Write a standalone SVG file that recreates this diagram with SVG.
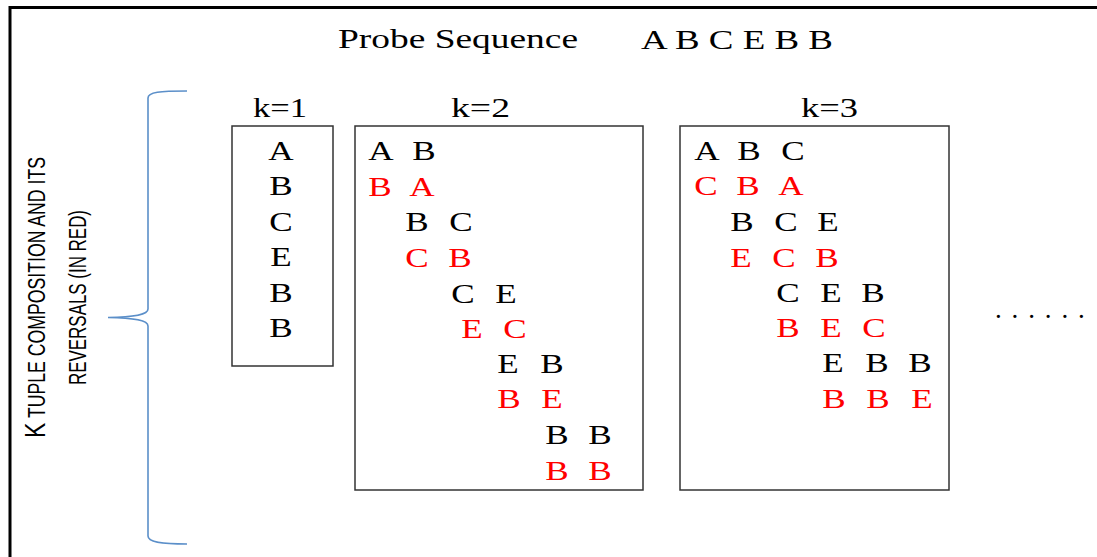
<svg xmlns="http://www.w3.org/2000/svg" width="1097" height="557" viewBox="0 0 1097 557">
<style>
.s{font-family:"Liberation Serif","Times New Roman",serif;font-size:27px;fill:#000}
.l{font-family:"Liberation Serif","Times New Roman",serif;font-size:27px;text-anchor:middle;fill:#000}
.r{fill:#ff0000}
.box{fill:none;stroke:#333;stroke-width:1.5}
.side{font-family:"Liberation Sans Narrow","Liberation Sans",Arial,sans-serif;font-size:23px;text-anchor:middle;fill:#000}
</style>
<rect width="1097" height="557" fill="#fff"/>
<g id="frame">
<line x1="10" y1="7.5" x2="1097" y2="7.5" stroke="#000" stroke-width="3"/>
<line x1="10" y1="6" x2="10" y2="557" stroke="#000" stroke-width="3"/>
</g>
<g id="title">
<text class="s" x="338" y="48" textLength="240" lengthAdjust="spacingAndGlyphs">Probe Sequence</text>
<text class="s" x="641" y="49" textLength="192" lengthAdjust="spacingAndGlyphs">A B C E B B</text>
</g>
<g id="side-label">
<text class="side" transform="translate(44.5,297.5) rotate(-90)" textLength="281" lengthAdjust="spacingAndGlyphs"><tspan font-size="30">K</tspan> TUPLE COMPOSITION AND ITS</text>
<text class="side" transform="translate(85.5,297.5) rotate(-90)" textLength="175" lengthAdjust="spacingAndGlyphs">REVERSALS (IN RED)</text>
</g>
<g id="connectors">
<path id="brace" d="M187,91 C160,91 148,92 148,98 L148,309 C148,315 135,317 108,317.5 C135,318 148,320 148,326 L148,536 C148,542 160,544 187,544" fill="none" stroke="#5b8fc9" stroke-width="1.6"/>
</g>
<g id="k1">
<text class="s" x="253" y="117" textLength="54" lengthAdjust="spacingAndGlyphs">k=1</text>
<rect class="box" x="232" y="126" width="101" height="240"/>
<text class="l" transform="translate(281,160) scale(1.3,1)">A</text>
<text class="l" transform="translate(281,195) scale(1.3,1)">B</text>
<text class="l" transform="translate(281,231) scale(1.3,1)">C</text>
<text class="l" transform="translate(281,266) scale(1.3,1)">E</text>
<text class="l" transform="translate(281,302) scale(1.3,1)">B</text>
<text class="l" transform="translate(281,337) scale(1.3,1)">B</text>
</g>
<g id="k2">
<text class="s" x="451" y="117" textLength="59" lengthAdjust="spacingAndGlyphs">k=2</text>
<rect class="box" x="355" y="126" width="288" height="364"/>
<text class="l" transform="translate(381,160) scale(1.3,1)">A</text>
<text class="l" transform="translate(424,160) scale(1.3,1)">B</text>
<text class="l r" transform="translate(380,196) scale(1.3,1)">B</text>
<text class="l r" transform="translate(422,196) scale(1.3,1)">A</text>
<text class="l" transform="translate(417,231) scale(1.3,1)">B</text>
<text class="l" transform="translate(461,231) scale(1.3,1)">C</text>
<text class="l r" transform="translate(417,267) scale(1.3,1)">C</text>
<text class="l r" transform="translate(460,267) scale(1.3,1)">B</text>
<text class="l" transform="translate(463,303) scale(1.3,1)">C</text>
<text class="l" transform="translate(506,303) scale(1.3,1)">E</text>
<text class="l r" transform="translate(472,338) scale(1.3,1)">E</text>
<text class="l r" transform="translate(515,338) scale(1.3,1)">C</text>
<text class="l" transform="translate(508,373) scale(1.3,1)">E</text>
<text class="l" transform="translate(552,373) scale(1.3,1)">B</text>
<text class="l r" transform="translate(509,408) scale(1.3,1)">B</text>
<text class="l r" transform="translate(552,408) scale(1.3,1)">E</text>
<text class="l" transform="translate(557,444) scale(1.3,1)">B</text>
<text class="l" transform="translate(600,444) scale(1.3,1)">B</text>
<text class="l r" transform="translate(557,480) scale(1.3,1)">B</text>
<text class="l r" transform="translate(600,480) scale(1.3,1)">B</text>
</g>
<g id="k3">
<text class="s" x="801" y="117" textLength="57" lengthAdjust="spacingAndGlyphs">k=3</text>
<rect class="box" x="680" y="126" width="269" height="364"/>
<text class="l" transform="translate(707,160) scale(1.3,1)">A</text>
<text class="l" transform="translate(749,160) scale(1.3,1)">B</text>
<text class="l" transform="translate(793,160) scale(1.3,1)">C</text>
<text class="l r" transform="translate(706,195) scale(1.3,1)">C</text>
<text class="l r" transform="translate(748,195) scale(1.3,1)">B</text>
<text class="l r" transform="translate(791,195) scale(1.3,1)">A</text>
<text class="l" transform="translate(742,231) scale(1.3,1)">B</text>
<text class="l" transform="translate(786,231) scale(1.3,1)">C</text>
<text class="l" transform="translate(828,231) scale(1.3,1)">E</text>
<text class="l r" transform="translate(741,267) scale(1.3,1)">E</text>
<text class="l r" transform="translate(784,267) scale(1.3,1)">C</text>
<text class="l r" transform="translate(827,267) scale(1.3,1)">B</text>
<text class="l" transform="translate(788,302) scale(1.3,1)">C</text>
<text class="l" transform="translate(831,302) scale(1.3,1)">E</text>
<text class="l" transform="translate(873,302) scale(1.3,1)">B</text>
<text class="l r" transform="translate(788,337) scale(1.3,1)">B</text>
<text class="l r" transform="translate(831,337) scale(1.3,1)">E</text>
<text class="l r" transform="translate(874,337) scale(1.3,1)">C</text>
<text class="l" transform="translate(833,372) scale(1.3,1)">E</text>
<text class="l" transform="translate(877,372) scale(1.3,1)">B</text>
<text class="l" transform="translate(920,372) scale(1.3,1)">B</text>
<text class="l r" transform="translate(834,408) scale(1.3,1)">B</text>
<text class="l r" transform="translate(878,408) scale(1.3,1)">B</text>
<text class="l r" transform="translate(922,408) scale(1.3,1)">E</text>
</g>
<g id="ellipsis">
<text class="s" x="995 1011.6 1028.2 1044.8 1061.4 1078" y="318">......</text>
</g>
</svg>
